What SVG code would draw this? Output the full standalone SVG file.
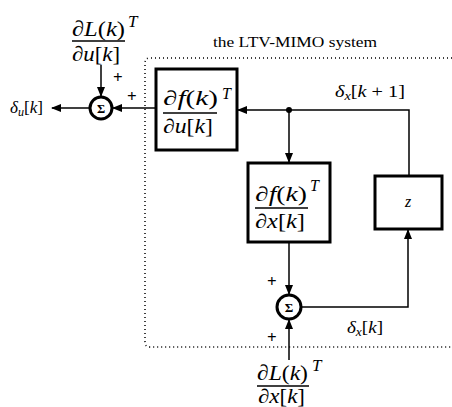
<svg xmlns="http://www.w3.org/2000/svg" width="452" height="407" viewBox="0 0 452 407">
<style>
.m{font-family:"Liberation Serif","DejaVu Serif",serif;fill:#000}
.i{font-style:italic}
.p{font-family:"Liberation Serif",serif;font-size:17px;font-weight:bold;fill:#000}
.box{fill:#fff;stroke:#000;stroke-width:3}
.sum{fill:#fff;stroke:#000;stroke-width:3}
.c{fill:none;stroke:#000;stroke-width:1.5}
.fl{stroke:#000;stroke-width:1.5}
</style>
<defs>
<marker id="ah" markerUnits="userSpaceOnUse" markerWidth="10" markerHeight="8" refX="9" refY="4" orient="auto">
<path d="M0,0 L10,4 L0,8 Z" fill="#000"/>
</marker>
</defs>
<rect width="452" height="407" fill="#fff"/>

<g id="system-boundary">
<path d="M460,58 H150 Q145,58 145,63 V342 Q145,347 150,347 H460" fill="none" stroke="#000" stroke-width="1.5" stroke-dasharray="1 3"/>
<text class="m" x="213" y="47" font-size="15.5" textLength="164" lengthAdjust="spacingAndGlyphs">the LTV-MIMO system</text>
</g>

<g id="connectors">
<line class="c" x1="101" y1="65" x2="101" y2="96" marker-end="url(#ah)"/>
<line class="c" x1="156" y1="108" x2="113" y2="108" marker-end="url(#ah)"/>
<line class="c" x1="89" y1="108" x2="52" y2="108" marker-end="url(#ah)"/>
<path class="c" d="M409,176 V110 H238" marker-end="url(#ah)"/>
<line class="c" x1="289" y1="110" x2="289" y2="162" marker-end="url(#ah)"/>
<line class="c" x1="289" y1="243" x2="289" y2="294" marker-end="url(#ah)"/>
<line class="c" x1="289" y1="360" x2="289" y2="320" marker-end="url(#ah)"/>
<path class="c" d="M302,307 H408 V230" marker-end="url(#ah)"/>
<circle cx="289" cy="110" r="3" fill="#000"/>
</g>

<g id="dL-du">
<text class="m" x="72" y="35.5" font-size="22" textLength="53" lengthAdjust="spacingAndGlyphs">∂<tspan class="i">L</tspan>(<tspan class="i">k</tspan>)</text>
<text class="m i" x="128" y="27" font-size="17">T</text>
<line class="fl" x1="72" y1="41" x2="125" y2="41"/>
<text class="m" x="72" y="60.5" font-size="21" textLength="48" lengthAdjust="spacingAndGlyphs">∂<tspan class="i">u</tspan>[<tspan class="i">k</tspan>]</text>
</g>

<g id="sum-u">
<circle class="sum" cx="101" cy="108" r="11"/>
<text class="m" x="101" y="112.5" font-size="12.5" text-anchor="middle" font-weight="bold">Σ</text>
<text class="p" x="113" y="83">+</text>
<text class="p" x="127" y="102">+</text>
</g>

<g id="out-u">
<text class="m" x="10" y="113" font-size="17" textLength="33" lengthAdjust="spacingAndGlyphs"><tspan class="i">δ</tspan><tspan class="i" font-size="12" dy="3">u</tspan><tspan dy="-3">[</tspan><tspan class="i">k</tspan>]</text>
</g>

<g id="df-du">
<rect class="box" x="156" y="69" width="81" height="81"/>
<text class="m" x="163" y="105" font-size="20.5" textLength="55" lengthAdjust="spacingAndGlyphs">∂<tspan class="i">f</tspan>(<tspan class="i">k</tspan>)</text>
<text class="m i" x="222" y="99" font-size="16">T</text>
<line class="fl" x1="163" y1="113" x2="217" y2="113"/>
<text class="m" x="163" y="133" font-size="20" textLength="50" lengthAdjust="spacingAndGlyphs">∂<tspan class="i">u</tspan>[<tspan class="i">k</tspan>]</text>
</g>

<g id="label-k1">
<text class="m" x="335" y="97" font-size="17" textLength="70" lengthAdjust="spacingAndGlyphs"><tspan class="i">δ</tspan><tspan class="i" font-size="12" dy="3">x</tspan><tspan dy="-3">[</tspan><tspan class="i">k</tspan> + 1]</text>
</g>

<g id="df-dx">
<rect class="box" x="248" y="163" width="82" height="79"/>
<text class="m" x="255" y="200.5" font-size="20.5" textLength="52" lengthAdjust="spacingAndGlyphs">∂<tspan class="i">f</tspan>(<tspan class="i">k</tspan>)</text>
<text class="m i" x="310" y="191" font-size="16">T</text>
<line class="fl" x1="255" y1="208" x2="308" y2="208"/>
<text class="m" x="255" y="227.5" font-size="20" textLength="50" lengthAdjust="spacingAndGlyphs">∂<tspan class="i">x</tspan>[<tspan class="i">k</tspan>]</text>
</g>

<g id="z">
<rect class="box" x="375" y="176" width="67" height="53"/>
<text class="m i" x="408" y="207" font-size="16" text-anchor="middle">z</text>
</g>

<g id="sum-x">
<circle class="sum" cx="289" cy="307" r="12"/>
<text class="m" x="289" y="312" font-size="13" text-anchor="middle" font-weight="bold">Σ</text>
<text class="p" x="267" y="287">+</text>
<text class="p" x="267" y="343">+</text>
</g>

<g id="label-k">
<text class="m" x="347" y="333" font-size="17" textLength="36" lengthAdjust="spacingAndGlyphs"><tspan class="i">δ</tspan><tspan class="i" font-size="12" dy="3">x</tspan><tspan dy="-3">[</tspan><tspan class="i">k</tspan>]</text>
</g>

<g id="dL-dx">
<text class="m" x="257" y="380" font-size="22" textLength="51" lengthAdjust="spacingAndGlyphs">∂<tspan class="i">L</tspan>(<tspan class="i">k</tspan>)</text>
<text class="m i" x="312" y="371" font-size="17">T</text>
<line class="fl" x1="257" y1="386" x2="309" y2="386"/>
<text class="m" x="258" y="403" font-size="20" textLength="47" lengthAdjust="spacingAndGlyphs">∂<tspan class="i">x</tspan>[<tspan class="i">k</tspan>]</text>
</g>
</svg>
